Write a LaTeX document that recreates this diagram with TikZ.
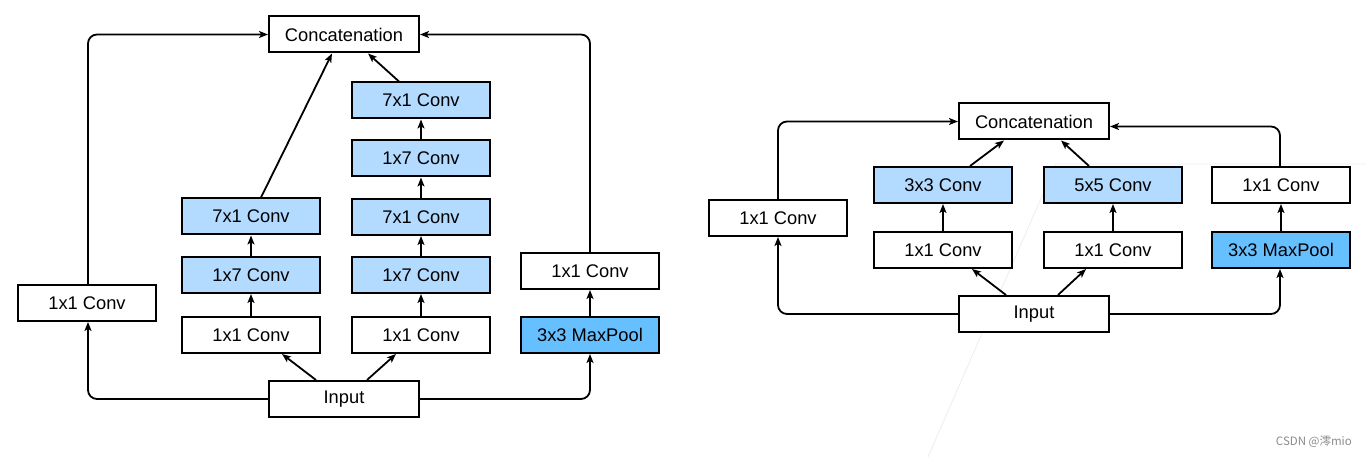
\documentclass[tikz,border=0pt]{standalone}
\usepackage{fontspec}
\setmainfont{Liberation Sans}
\newfontfamily\cjk{Noto Sans CJK SC}
\usetikzlibrary{arrows.meta}
\definecolor{convblue}{RGB}{179,218,255}
\definecolor{poolblue}{RGB}{102,192,255}
\definecolor{faint}{RGB}{238,238,238}
\tikzset{
  blk/.style={draw=black, line width=2pt, minimum width=138pt, minimum height=36pt,
    inner sep=0pt, font=\fontsize{18.3}{20}\selectfont, fill=white},
  wide/.style={blk, minimum width=150pt},
  convb/.style={blk, fill=convblue},
  poolb/.style={blk, fill=poolblue},
  conn/.style={line width=1.8pt, -{Stealth[length=9pt,width=7pt,inset=2.2pt]}},
  elbow/.style={conn, rounded corners=9pt}
}
\begin{document}
\begin{tikzpicture}[x=1pt,y=-1pt]
\useasboundingbox (0,0) rectangle (1366,457);
\fill[white] (0,0) rectangle (1366,457);
% faint artifact line
\draw[faint, line width=0.8pt] (1366,164) -- (1056,164) -- (928,457);

% ---------- left diagram ----------
\node[wide] (concat) at (344,34.5) {Concatenation};
\node[blk] (l1) at (87,303) {1x1 Conv};
\node[convb] (a3) at (251,216.5) {7x1 Conv};
\node[convb] (a2) at (251,275) {1x7 Conv};
\node[blk] (a1) at (251,335) {1x1 Conv};
\node[convb] (b5) at (421,100.5) {7x1 Conv};
\node[convb] (b4) at (421,158.5) {1x7 Conv};
\node[convb] (b3) at (421,217) {7x1 Conv};
\node[convb] (b2) at (421,275) {1x7 Conv};
\node[blk] (b1) at (421,335) {1x1 Conv};
\node[blk] (r1) at (590,271) {1x1 Conv};
\node[poolb] (mp) at (590,335) {3x3 MaxPool};
\node[wide] (in) at (344,399) {Input};

\draw[elbow] ([xshift=1pt]l1.north) |- (concat.west);
\draw[elbow] (r1.north) |- (concat.east);
\draw[elbow] (in.west) -| ([xshift=1pt]l1.south);
\draw[elbow] (in.east) -| (mp.south);
\draw[conn] ([xshift=-28pt]in.north) -- ([xshift=31pt]a1.south);
\draw[conn] ([xshift=23pt]in.north) -- ([xshift=-25pt]b1.south);
\draw[conn] (a1) -- (a2);
\draw[conn] (a2) -- (a3);
\draw[conn] (b1) -- (b2);
\draw[conn] (b2) -- (b3);
\draw[conn] (b3) -- (b4);
\draw[conn] (b4) -- (b5);
\draw[conn] (mp) -- (r1);
\draw[conn] ([xshift=10pt]a3.north) -- ([xshift=-12pt]concat.south);
\draw[conn] ([xshift=-22pt]b5.north) -- ([xshift=24pt]concat.south);

% ---------- right diagram ----------
\node[wide] (concat2) at (1034,121.5) {Concatenation};
\node[blk] (l2) at (778,218) {1x1 Conv};
\node[convb] (c2) at (943,185) {3x3 Conv};
\node[blk] (c1) at (943,250) {1x1 Conv};
\node[convb] (d2) at (1113,185) {5x5 Conv};
\node[blk] (d1) at (1113,250) {1x1 Conv};
\node[blk] (r2) at (1281,185) {1x1 Conv};
\node[poolb] (mp2) at (1281,250) {3x3 MaxPool};
\node[wide] (in2) at (1034,314) {Input};

\draw[elbow] (l2.north) |- (concat2.west);
\draw[elbow] ([xshift=-1pt]r2.north) |- ([yshift=-5pt]concat2.east);
\draw[elbow] (in2.west) -| (l2.south);
\draw[elbow] (in2.east) -| ([xshift=-1pt]mp2.south);
\draw[conn] ([xshift=-28pt]in2.north) -- ([xshift=29pt]c1.south);
\draw[conn] ([xshift=24pt]in2.north) -- ([xshift=-27pt]d1.south);
\draw[conn] (c1) -- (c2);
\draw[conn] (d1) -- (d2);
\draw[conn] (mp2) -- (r2);
\draw[conn] ([xshift=27pt]c2.north) -- ([xshift=-30pt]concat2.south);
\draw[conn] ([xshift=-24pt]d2.north) -- ([xshift=27pt]concat2.south);

% watermark
\node[anchor=east, inner sep=0pt, text=black!45, font=\cjk\fontsize{11.5}{13}\selectfont] (wm) at (1352,442) {CSDN @澪mio};
\end{tikzpicture}
\end{document}
